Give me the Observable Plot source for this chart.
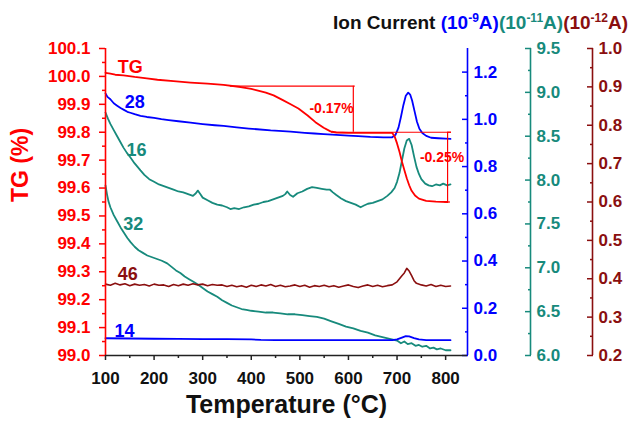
<!DOCTYPE html>
<html><head><meta charset="utf-8">
<script src="https://cdn.jsdelivr.net/npm/d3@7"></script>
<script src="https://cdn.jsdelivr.net/npm/@observablehq/plot@0.6"></script>
<style>
body{margin:0;background:#fff;}
#chart{position:relative;width:633px;height:427px;overflow:hidden;background:#fff;font-family:"Liberation Sans",Arial,sans-serif;}
#chart svg{position:absolute;left:0;top:0;}
#title{position:absolute;left:0;width:628px;text-align:right;top:13px;font-size:19px;line-height:19px;font-weight:bold;white-space:nowrap;}
#title sup{font-size:12px;line-height:0;vertical-align:7px;}
</style></head><body>
<div id="chart"><div id="title"><span style="color:#111">Ion Current </span><span style="color:#0000ff">(10<sup>-9</sup>A)</span><span style="color:#178a7c">(10<sup>-11</sup>A)</span><span style="color:#8a0f0f">(10<sup>-12</sup>A)</span></div></div>
<script>
// ---------- data ----------
const tempDomain = [100, 845];
const xTicks = [100, 200, 300, 400, 500, 600, 700, 800];
const xMinor = [150, 250, 350, 450, 550, 650, 750];

const tgDomain = [99.0, 100.1];
const tgTicks = [99.0, 99.1, 99.2, 99.3, 99.4, 99.5, 99.6, 99.7, 99.8, 99.9, 100.0, 100.1];
const tgMinor = [99.05, 99.15, 99.25, 99.35, 99.45, 99.55, 99.65, 99.75, 99.85, 99.95, 100.05];

const blueDomain = [0, 1.3];
const blueTicks = [0, 0.2, 0.4, 0.6, 0.8, 1.0, 1.2];
const blueMinor = [0.1, 0.3, 0.5, 0.7, 0.9, 1.1];

const tealDomain = [6.0, 9.5];
const tealTicks = [6.0, 6.5, 7.0, 7.5, 8.0, 8.5, 9.0, 9.5];
const tealMinor = [6.25, 6.75, 7.25, 7.75, 8.25, 8.75, 9.25];

const dredDomain = [0.2, 1.0];
const dredTicks = [0.2, 0.3, 0.4, 0.5, 0.6, 0.7, 0.8, 0.9, 1.0];
const dredMinor = [0.25, 0.35, 0.45, 0.55, 0.65, 0.75, 0.85, 0.95];

// TG (%)
const tgT = [100,110,120,137,160,185,207,240,275,310,343,378,400,412,430,446,465,481,497,516,532,549,563,575,600,650,690,695,700,705,710,715,720,725,730,737,745,760,780,804];
const tgV = [100.013,100.010,100.006,100.004,99.998,99.993,99.988,99.983,99.978,99.974,99.970,99.962,99.955,99.950,99.942,99.932,99.915,99.900,99.885,99.860,99.836,99.816,99.803,99.799,99.798,99.798,99.798,99.785,99.760,99.730,99.695,99.665,99.635,99.610,99.590,99.573,99.562,99.554,99.551,99.550];

// m/z 28 (1e-9 A)
const m28T = [100,104,110,117,124,131,138,145,151,160,172,185,200,215,230,250,275,300,325,343,370,395,412,440,465,481,510,530,549,575,600,620,645,672,690,697,703,708,713,718,723,727,731,736,741,746,752,760,770,785,800,810];
const m28V = [1.110,1.095,1.085,1.068,1.058,1.048,1.040,1.032,1.028,1.022,1.015,1.010,1.006,1.001,0.997,0.992,0.986,0.980,0.975,0.972,0.966,0.961,0.958,0.953,0.950,0.948,0.943,0.940,0.937,0.934,0.931,0.929,0.926,0.924,0.924,0.935,0.965,1.010,1.060,1.100,1.113,1.105,1.080,1.035,0.990,0.960,0.942,0.930,0.922,0.920,0.918,0.917];

// m/z 14 (1e-9 A)
const m14T = [100,150,200,250,300,350,400,420,450,500,550,600,650,690,700,710,718,725,735,745,760,810];
const m14V = [0.073,0.072,0.071,0.070,0.069,0.069,0.068,0.066,0.065,0.065,0.065,0.065,0.065,0.065,0.068,0.076,0.082,0.081,0.074,0.068,0.065,0.065];

// m/z 16 (1e-11 A)
const m16T = [100,105,110,117,124,130,137,144,151,160,172,180,190,200,210,220,230,240,250,260,270,280,286,290,295,300,310,320,330,340,350,357,365,375,385,395,405,415,425,435,445,455,465,470,474,480,486,495,505,515,525,535,545,555,562,568,575,585,595,605,615,625,632,640,650,660,670,680,688,695,700,705,710,715,720,725,730,735,740,745,750,758,765,772,780,788,795,803,810];
const m16V = [8.77,8.70,8.64,8.57,8.50,8.44,8.37,8.31,8.26,8.19,8.11,8.06,8.01,7.98,7.95,7.93,7.91,7.89,7.87,7.86,7.84,7.82,7.85,7.88,7.84,7.80,7.77,7.74,7.72,7.71,7.69,7.67,7.68,7.67,7.69,7.70,7.72,7.73,7.75,7.76,7.78,7.80,7.82,7.84,7.87,7.83,7.81,7.85,7.87,7.90,7.92,7.91,7.90,7.89,7.89,7.86,7.83,7.79,7.76,7.74,7.72,7.69,7.71,7.73,7.74,7.76,7.78,7.82,7.86,7.91,7.98,8.08,8.22,8.36,8.45,8.47,8.40,8.27,8.15,8.07,8.01,7.96,7.94,7.93,7.95,7.94,7.96,7.94,7.95];

// m/z 32 (1e-11 A)
const m32T = [100,103,106,110,117,124,131,138,145,152,160,168,177,186,196,206,216,227,236,245,254,263,272,281,290,300,310,320,330,340,350,360,370,380,390,400,415,430,445,460,475,490,505,520,535,550,565,580,595,610,625,640,655,670,685,700,708,715,722,730,738,745,752,760,768,775,782,790,800,810];
const m32V = [7.94,7.84,7.76,7.69,7.60,7.53,7.46,7.40,7.34,7.29,7.24,7.20,7.17,7.14,7.12,7.10,7.08,7.05,7.01,6.97,6.94,6.90,6.87,6.84,6.81,6.77,6.73,6.70,6.67,6.63,6.60,6.57,6.55,6.53,6.52,6.51,6.50,6.49,6.49,6.48,6.47,6.47,6.46,6.45,6.44,6.42,6.39,6.36,6.33,6.31,6.28,6.26,6.23,6.21,6.19,6.17,6.14,6.16,6.13,6.14,6.11,6.12,6.10,6.11,6.08,6.09,6.07,6.08,6.06,6.06];

// m/z 46 (1e-12 A)
const m46T = [100,110,120,130,140,150,160,170,180,190,200,210,220,230,240,250,260,270,280,290,300,310,320,330,340,350,360,370,380,390,400,410,420,430,440,450,460,470,480,490,500,510,520,530,540,550,560,570,580,590,600,610,620,630,640,650,660,670,680,690,700,710,715,720,725,730,735,740,750,760,770,780,790,800,810];
const m46V = [0.386,0.383,0.388,0.384,0.387,0.382,0.386,0.383,0.385,0.381,0.386,0.383,0.384,0.380,0.385,0.382,0.386,0.383,0.387,0.384,0.386,0.382,0.385,0.383,0.384,0.380,0.383,0.379,0.382,0.378,0.383,0.380,0.384,0.381,0.385,0.380,0.383,0.379,0.381,0.384,0.380,0.383,0.378,0.382,0.380,0.383,0.379,0.382,0.378,0.381,0.384,0.380,0.377,0.381,0.384,0.380,0.383,0.379,0.382,0.384,0.392,0.408,0.415,0.427,0.420,0.408,0.395,0.388,0.384,0.381,0.385,0.380,0.383,0.380,0.381];

// annotations (TG % levels and temperatures)
const annH = [{t1: 357, t2: 614, v: 99.965}, {t1: 565, t2: 812, v: 99.80}];
const annV = [{t: 610, v1: 99.80, v2: 99.965}, {t: 804, v1: 99.55, v2: 99.80}];
const annCaps = [{t1: 805, t2: 812, v: 99.80}, {t1: 798, t2: 810, v: 99.55}];
const annLeft = [{t: 611, v: 99.885, s: "-0.17%"}];
const annRight = [{t: 747, v: 99.709, s: "-0.25%"}];

// series labels
const tgLabel = [{t: 151, v: 100.034, s: "TG"}];
const blueLabels = [{t: 160, v: 1.073, s: "28"}, {t: 139, v: 0.102, s: "14"}];
const tealLabels = [{t: 164, v: 8.337, s: "16"}, {t: 157, v: 7.494, s: "32"}];
const dredLabels = [{t: 146, v: 0.411, s: "46"}];

// ---------- layout ----------
const W = 633, H = 427, MT = 48, MB = 72, XL = 105, XR = 467;
const RED = "#ff0000", BLUE = "#0000ff", TEAL = "#178a7c", DRED = "#8a0f0f";
const FONT = '"Liberation Sans", Arial, sans-serif';
const zip = (T, V) => T.map((t, i) => ({t, v: V[i]}));
const f1 = d => d.toFixed(1);
const chart = document.getElementById("chart");
const styleObj = {background: "transparent", overflow: "visible", fontFamily: FONT};

function rightAxis(domain, axisX, color, major, minor, pad) {
  return Plot.plot({
    width: W, height: H, marginTop: MT, marginBottom: MB, marginLeft: 0, marginRight: W - axisX,
    style: styleObj,
    x: {domain: [0, 1], axis: null},
    y: {domain, label: null},
    marks: [
      Plot.ruleX([1], {stroke: color, strokeWidth: 1.6}),
      Plot.axisY(major, {anchor: "right", tickSize: 6, dx: -6, fill: "none", stroke: color, strokeWidth: 1.5, label: null}),
      Plot.axisY(minor, {anchor: "right", tickSize: 3, dx: -3, fill: "none", stroke: color, strokeWidth: 1.5, label: null}),
      Plot.axisY(major, {anchor: "right", tickSize: 0, tickPadding: pad, tickFormat: f1, fill: color, fontSize: 17, fontWeight: "bold", label: null})
    ]
  });
}

function linePlot(domain, marks) {
  return Plot.plot({
    width: W, height: H, marginTop: MT, marginBottom: MB, marginLeft: XL, marginRight: W - XR,
    style: styleObj,
    x: {domain: tempDomain, range: [XL, XR], axis: null},
    y: {domain, axis: null, label: null},
    marks
  });
}

const labelOpts = (fill) => ({x: "t", y: "v", text: "s", fill, fontSize: 18, fontWeight: "bold"});

const plots = [];
plots.push(rightAxis(blueDomain, XR, BLUE, blueTicks, blueMinor, 6));
plots.push(rightAxis(tealDomain, 530, TEAL, tealTicks, tealMinor, 6));
plots.push(rightAxis(dredDomain, 592, DRED, dredTicks, dredMinor, 6));

plots.push(linePlot(tealDomain, [
  Plot.line(zip(m32T, m32V), {x: "t", y: "v", stroke: TEAL, strokeWidth: 1.8}),
  Plot.line(zip(m16T, m16V), {x: "t", y: "v", stroke: TEAL, strokeWidth: 1.8}),
  Plot.text(tealLabels, labelOpts(TEAL))
]));
plots.push(linePlot(dredDomain, [
  Plot.line(zip(m46T, m46V), {x: "t", y: "v", stroke: DRED, strokeWidth: 1.6}),
  Plot.text(dredLabels, labelOpts(DRED))
]));
plots.push(linePlot(blueDomain, [
  Plot.line(zip(m14T, m14V), {x: "t", y: "v", stroke: BLUE, strokeWidth: 1.8}),
  Plot.line(zip(m28T, m28V), {x: "t", y: "v", stroke: BLUE, strokeWidth: 1.8}),
  Plot.text(blueLabels, labelOpts(BLUE))
]));

plots.push(Plot.plot({
  width: W, height: H, marginTop: MT, marginBottom: MB, marginLeft: XL, marginRight: W - XR,
  style: styleObj,
  x: {domain: tempDomain, range: [XL, XR], label: null},
  y: {domain: tgDomain, label: null},
  marks: [
    Plot.ruleX([tempDomain[0]], {stroke: RED, strokeWidth: 1.6}),
    Plot.ruleY([tgDomain[0]], {stroke: "#222", strokeWidth: 1.6}),
    Plot.axisY(tgTicks, {anchor: "left", tickSize: 6, tickPadding: 9, tickFormat: f1, stroke: RED, fill: RED, strokeWidth: 1.5, fontSize: 17, fontWeight: "bold", label: null}),
    Plot.axisY(tgMinor, {anchor: "left", tickSize: 3, fill: "none", stroke: RED, strokeWidth: 1.5, label: null}),
    Plot.axisX(xTicks, {anchor: "bottom", tickSize: 5, tickPadding: 11, tickFormat: d => String(d), stroke: "#222", fill: "#111", strokeWidth: 1.5, fontSize: 17, fontWeight: "bold", label: null}),
    Plot.axisX(xMinor, {anchor: "bottom", tickSize: 3, fill: "none", stroke: "#222", strokeWidth: 1.5, label: null}),
    Plot.text(["TG (%)"], {frameAnchor: "left", dx: -85, rotate: -90, fill: RED, fontSize: 23, fontWeight: "bold"}),
    Plot.text(["Temperature (\u00B0C)"], {frameAnchor: "bottom", dy: 57, fill: "#111", fontSize: 25, fontWeight: "bold"}),
    Plot.ruleY(annH, {x1: "t1", x2: "t2", y: "v", stroke: RED, strokeWidth: 1.2}),
    Plot.ruleY(annCaps, {x1: "t1", x2: "t2", y: "v", stroke: RED, strokeWidth: 1.2}),
    Plot.ruleX(annV, {x: "t", y1: "v1", y2: "v2", stroke: RED, strokeWidth: 1.2}),
    Plot.text(annLeft, {x: "t", y: "v", text: "s", textAnchor: "end", fill: RED, fontSize: 14, fontWeight: "bold"}),
    Plot.text(annRight, {x: "t", y: "v", text: "s", textAnchor: "start", fill: RED, fontSize: 14, fontWeight: "bold"}),
    Plot.line(zip(tgT, tgV), {x: "t", y: "v", stroke: RED, strokeWidth: 1.8}),
    Plot.text(tgLabel, labelOpts(RED))
  ]
}));

for (const p of plots) chart.appendChild(p);
</script>
</body></html>
